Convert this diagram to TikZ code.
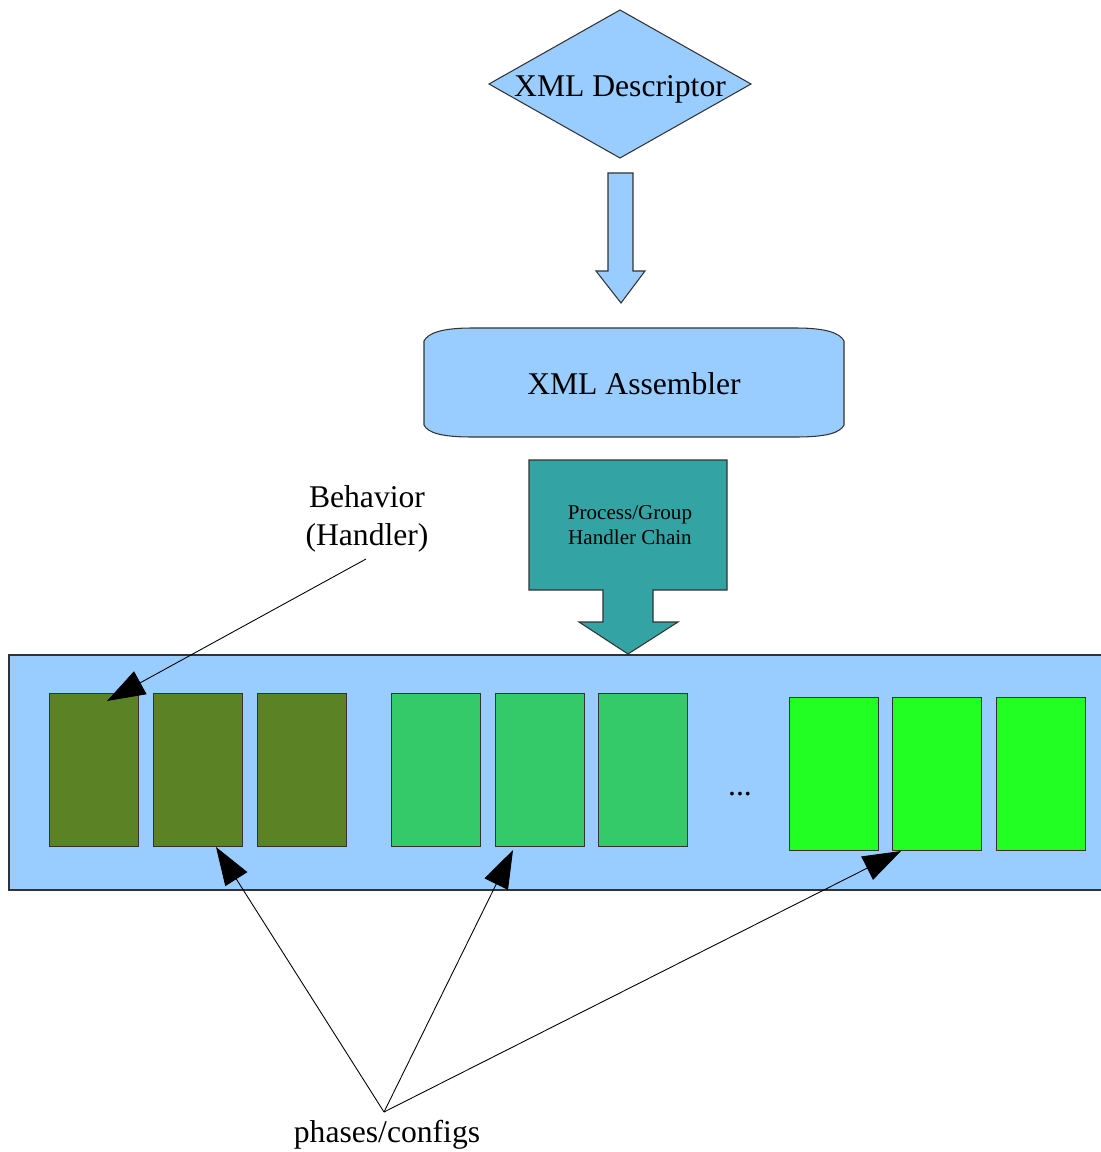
\documentclass[tikz,border=0pt]{standalone}
\usepackage{fontspec}
\setmainfont{Liberation Serif}
\usetikzlibrary{arrows.meta,calc}
\definecolor{paleblue}{HTML}{99CCFF}
\definecolor{chainteal}{HTML}{33A3A3}
\definecolor{olivegreen}{HTML}{5C8226}
\definecolor{midgreen}{HTML}{35CA69}
\definecolor{limegreen}{HTML}{22FF22}
\tikzset{
    phase/.style={draw=black!80, line width=0.6pt, minimum width=1.78cm, minimum height=3.06cm, inner sep=0pt, anchor=north west},
    bigtext/.style={font=\fontsize{18}{21.5}\selectfont, inner sep=0pt, align=center},
    pointer/.style={line width=0.5pt, -{Triangle[length=0.76cm,width=0.52cm]}}
}
\begin{document}
\begin{tikzpicture}[x=0.02cm, y=-0.02cm]
        \useasboundingbox (0,0) rectangle (1100,1152);

        \draw[fill=paleblue, draw=black!80, line width=0.6pt] (620,10) -- (751,84) -- (620,158) -- (489,84) -- cycle;
        \draw[fill=paleblue, draw=black!80, line width=0.6pt] (608,173) -- (633,173) -- (633,271) -- (645,271) -- (621,303) -- (596,271) -- (608,271) -- cycle;
        \draw[fill=paleblue, draw=black!80, line width=0.6pt] (424,341) .. controls (428,333) and (442,328) .. (472,328) -- (796,328) .. controls (826,328) and (840,333) .. (844,341) -- (844,425) .. controls (840,433) and (826,437) .. (796,437) -- (472,437) .. controls (442,437) and (428,433) .. (424,425) -- cycle;
        \draw[fill=chainteal, draw=black!80, line width=0.6pt] (529,460) -- (727,460) -- (727,590) -- (653,590) -- (653,622) -- (678,622) -- (628,654) -- (579,622) -- (603,622) -- (603,590) -- (529,590) -- cycle;
        \draw[fill=paleblue, draw=black!80, line width=0.6pt] (1110,655) -- (9,655) -- (9,890) -- (1110,890);

        \node[bigtext, anchor=base] (desc) at (620,97) {XML Descriptor};
        \node[bigtext, anchor=base] (asm) at (634,394) {XML Assembler};
        \node[font=\fontsize{12}{14.2}\selectfont, inner sep=0pt, align=center] (chain) at (630,525) {Process/Group\\Handler Chain};
        \node[bigtext] (behav) at (367,519) {Behavior\\(Handler)};
        \node[bigtext, anchor=base] (phasecfg) at (387,1142) {phases/configs};
        \node[bigtext, anchor=base] (dots) at (740,795) {...};

        \node[phase, fill=olivegreen] (b1) at (49,693) {};
        \node[phase, fill=olivegreen] (b2) at (153,693) {};
        \node[phase, fill=olivegreen] (b3) at (257,693) {};
        \node[phase, fill=midgreen] (b4) at (391,693) {};
        \node[phase, fill=midgreen] (b5) at (495,693) {};
        \node[phase, fill=midgreen] (b6) at (598,693) {};
        \node[phase, fill=limegreen] (b7) at (789,697) {};
        \node[phase, fill=limegreen] (b8) at (892,697) {};
        \node[phase, fill=limegreen] (b9) at (996,697) {};

        \coordinate (behavtail) at (366,559);
        \coordinate (apex) at (384,1112);

        \draw[pointer] (behavtail) -- ($(b1.north west)+(58,8)$);
        \draw[pointer] (apex) -- ($(b2.south)+(18,0)$);
        \draw[pointer] (apex) -- ($(b5.south)+(-27,3)$);
        \draw[pointer] (apex) -- ($(b8.south)+(-36,0)$);

    \end{tikzpicture}
\end{document}
